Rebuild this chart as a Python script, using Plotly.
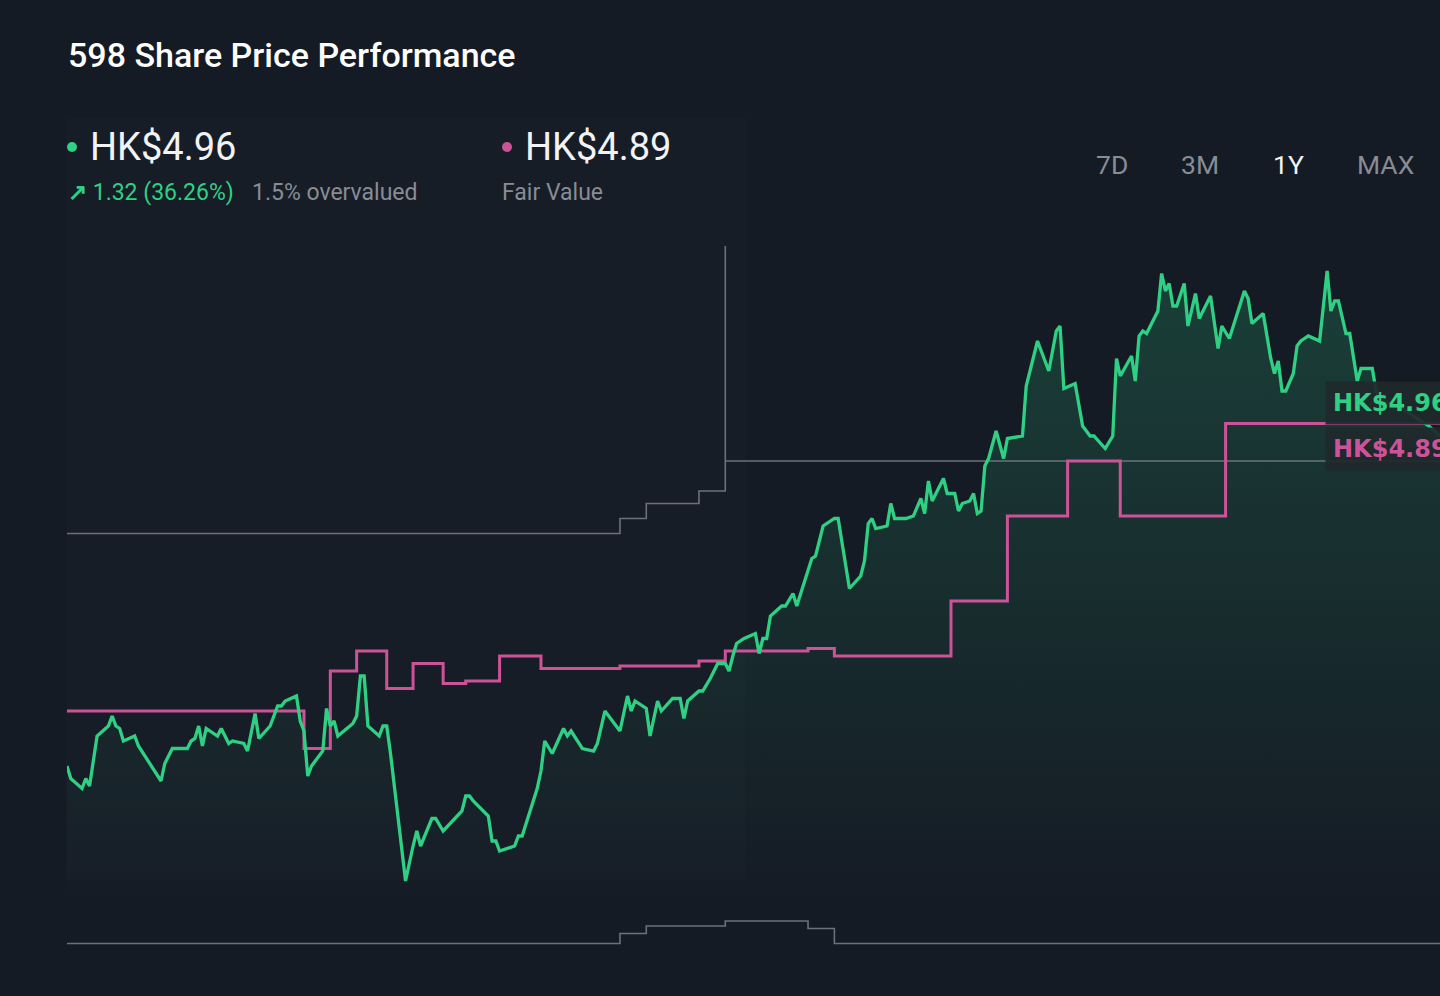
import pandas as pd
import plotly.graph_objects as go

# ---- data ----
START = pd.Timestamp("2023-06-05")

# share price, HK$  (day offset from START, close)
price_days = [0, 1, 4, 5, 6, 8, 11, 12, 13, 14, 15, 18, 19, 25, 26, 28, 32, 33, 34, 35,
              36, 37, 40, 41, 43, 44, 47, 48, 50, 51, 54, 56, 57, 58, 61, 62, 63, 64, 65, 68,
              69, 70, 71, 72, 76, 77, 78, 79, 80, 83, 84, 85, 86, 90, 92, 93, 94, 97, 98, 100,
              105, 106, 107, 108, 112, 113, 114, 115, 119, 120, 121, 123, 125, 126, 127, 129, 132, 133, 134, 137,
              140, 141, 143, 147, 149, 150, 151, 154, 155, 157, 158, 161, 163, 164, 165, 168, 169, 171, 173, 175,
              176, 177, 178, 180, 183, 184, 185, 186, 187, 190, 191, 193, 194, 198, 199, 201, 204, 205, 208, 211,
              212, 213, 214, 215, 218, 219, 220, 223, 225, 227, 228, 229, 230, 233, 234, 236, 237, 238, 240, 241,
              242, 243, 244, 245, 247, 249, 250, 254, 255, 258, 261, 263, 264, 265, 268, 270, 272, 273, 276, 278,
              279, 280, 283, 284, 285, 286, 287, 290, 291, 292, 293, 294, 295, 297, 298, 300, 301, 304, 306, 307,
              309, 313, 314, 315, 318, 320, 321, 322, 323, 324, 326, 327, 328, 330, 333, 335, 336, 337, 338, 340,
              341, 343, 344, 347, 348, 350, 354, 358, 362, 365]
price = [3.64, 3.59, 3.55, 3.59, 3.56, 3.76, 3.80, 3.84, 3.80, 3.79, 3.74, 3.76, 3.72, 3.58, 3.65, 3.71, 3.71, 3.74, 3.75, 3.80,
         3.72, 3.79, 3.76, 3.79, 3.73, 3.74, 3.73, 3.70, 3.85, 3.75, 3.80, 3.88, 3.88, 3.90, 3.92, 3.82, 3.78, 3.60, 3.64, 3.70,
         3.87, 3.80, 3.82, 3.76, 3.81, 3.84, 4.00, 4.00, 3.80, 3.76, 3.80, 3.80, 3.69, 3.18, 3.32, 3.38, 3.32, 3.43, 3.43, 3.38,
         3.46, 3.52, 3.52, 3.50, 3.44, 3.34, 3.34, 3.30, 3.32, 3.36, 3.36, 3.45, 3.55, 3.62, 3.74, 3.69, 3.79, 3.76, 3.78, 3.71,
         3.70, 3.73, 3.86, 3.78, 3.92, 3.86, 3.90, 3.87, 3.76, 3.90, 3.86, 3.91, 3.91, 3.83, 3.90, 3.94, 3.94, 3.99, 4.05, 4.05,
         4.02, 4.08, 4.13, 4.15, 4.17, 4.09, 4.15, 4.15, 4.24, 4.28, 4.28, 4.33, 4.28, 4.47, 4.48, 4.60, 4.63, 4.63, 4.35, 4.40,
         4.46, 4.61, 4.63, 4.59, 4.60, 4.69, 4.63, 4.63, 4.64, 4.71, 4.65, 4.78, 4.70, 4.79, 4.73, 4.73, 4.66, 4.69, 4.70, 4.73,
         4.65, 4.66, 4.84, 4.87, 4.98, 4.87, 4.95, 4.96, 5.16, 5.34, 5.22, 5.38, 5.40, 5.15, 5.17, 5.00, 4.96, 4.96, 4.91, 4.96,
         5.27, 5.20, 5.28, 5.18, 5.36, 5.38, 5.37, 5.46, 5.61, 5.54, 5.57, 5.48, 5.48, 5.57, 5.40, 5.53, 5.43, 5.52, 5.31, 5.40,
         5.35, 5.54, 5.51, 5.41, 5.45, 5.27, 5.21, 5.26, 5.14, 5.14, 5.21, 5.32, 5.34, 5.36, 5.34, 5.62, 5.46, 5.50, 5.50, 5.37,
         5.37, 5.18, 5.23, 5.23, 5.14, 5.10, 5.08, 5.04, 5.00, 4.96]

# fair value estimate (step changes)
fv_days = [0, 63, 70, 77, 85, 92, 100, 106, 115, 126, 147, 168, 175, 197, 204, 235, 250, 266, 280, 308, 365]
fv_vals = [3.86, 3.71, 4.02, 4.10, 3.95, 4.05, 3.97, 3.98, 4.08, 4.03, 4.04, 4.06, 4.10, 4.11, 4.08, 4.30, 4.64,
           4.86, 4.64, 5.01, 5.01]

# grey reference bands (upper / lower)
upper_days = [0, 147, 154, 168, 175, 175, 365]
upper_vals = [4.57, 4.63, 4.69, 4.74, 5.72, 4.86, 4.86]
lower_days = [0, 147, 154, 175, 197, 204, 365]
lower_vals = [2.93, 2.97, 3.00, 3.02, 2.99, 2.93, 2.93]

last_price = "HK$4.96"
fair_value = "HK$4.89"
change_txt = "1.32 (36.26%)"
valuation_txt = "1.5% overvalued"
periods = ["7D", "3M", "1Y", "MAX"]
active_period = "1Y"

# ---- styling ----
BG = "#151b25"
GREEN = "#2fd083"
PINK = "#cc5398"
GREY_LINE = "#6b717b"
GREY_TXT = "#878c95"
FONT = "Roboto"
TAG_BG = "rgba(31,41,44,0.93)"

W, H = 1440, 996
L, R, T, B = 67, 0, 230, 36


def to_dates(days):
    return [START + pd.Timedelta(days=d) for d in days]


def px(x):
    return (x - L) / (W - L - R)


def py(y):
    return (H - B - y) / (H - T - B)


fig = go.Figure()

# faint panel behind the header / left half
fig.add_shape(type="rect", xref="paper", yref="paper", layer="below",
              x0=px(66), x1=px(745), y0=py(880), y1=py(118),
              fillcolor="rgba(255,255,255,0.012)", line_width=0)

# area under price
fig.add_trace(go.Scatter(
    x=to_dates(price_days), y=price, mode="lines",
    line=dict(width=0, color=GREEN),
    fill="tozeroy",
    fillgradient=dict(type="vertical",
                      colorscale=[[0, "rgba(47,208,131,0)"], [1, "rgba(47,208,131,0.2)"]],
                      start=3.1, stop=5.62),
    hoverinfo="skip", showlegend=False,
))

for d, v in [(upper_days, upper_vals), (lower_days, lower_vals)]:
    fig.add_trace(go.Scatter(
        x=to_dates(d), y=v, mode="lines", line=dict(color=GREY_LINE, width=1.6, shape="hv"),
        hoverinfo="skip", showlegend=False,
    ))

fig.add_trace(go.Scatter(
    x=to_dates(fv_days), y=fv_vals, mode="lines", name="Fair Value",
    line=dict(color=PINK, width=3, shape="hv"), showlegend=False,
))

fig.add_trace(go.Scatter(
    x=to_dates(price_days), y=price, mode="lines", name="598",
    line=dict(color=GREEN, width=3.3), showlegend=False,
))


def note(text, x, y, size, color, anchor="left", weight=400, family=FONT, **kw):
    fig.add_annotation(text=text, x=px(x), y=py(y), xref="paper", yref="paper",
                       xanchor=anchor, yanchor="middle", showarrow=False,
                       font=dict(family=family, size=size, color=color, weight=weight), **kw)


def dot(x, y, color):
    fig.add_shape(type="circle", xref="paper", yref="paper", xsizemode="pixel", ysizemode="pixel",
                  xanchor=px(x), yanchor=py(y), x0=-5, x1=5, y0=-5, y1=5,
                  fillcolor=color, line_width=0)


note("598 Share Price Performance", 66, 55, 34, "#ffffff", weight=500)

dot(72, 147, GREEN)
note(last_price, 88, 147, 38, "#f2f3f5")
note("<b>↗</b> " + change_txt, 66, 192, 23, GREEN)
note(valuation_txt, 250, 192, 23, GREY_TXT)

dot(507, 147, PINK)
note(fair_value, 523, 147, 38, "#f2f3f5")
note("Fair Value", 500, 192, 23, GREY_TXT)

for label, cx in zip(periods, [1112, 1200, 1288, 1385]):
    note(label, cx, 164, 26.5, "#f2f3f5" if label == active_period else GREY_TXT, anchor="center")

# end-of-line value tags (run off the right edge, as in the source)
note(last_price, 1325, 403, 24, GREEN, weight=700, family="DejaVu Sans", bgcolor=TAG_BG, borderpad=7)
note(fair_value, 1325, 449, 24, PINK, weight=700, family="DejaVu Sans", bgcolor=TAG_BG, borderpad=7)

fig.update_xaxes(visible=False, range=[START, START + pd.Timedelta(days=365)])
fig.update_yaxes(visible=False, range=[2.864, 5.784])
fig.update_layout(
    width=W, height=H,
    margin=dict(l=L, r=R, t=T, b=B),
    paper_bgcolor=BG, plot_bgcolor=BG,
    font=dict(family=FONT, color="#ffffff"),
    hovermode="x",
)

fig.write_html("out.html", config={"displayModeBar": False}, post_script=(
    "document.body.style.margin='0';"
    "document.body.style.overflow='hidden';"
    "document.body.style.background='" + BG + "';"
))
